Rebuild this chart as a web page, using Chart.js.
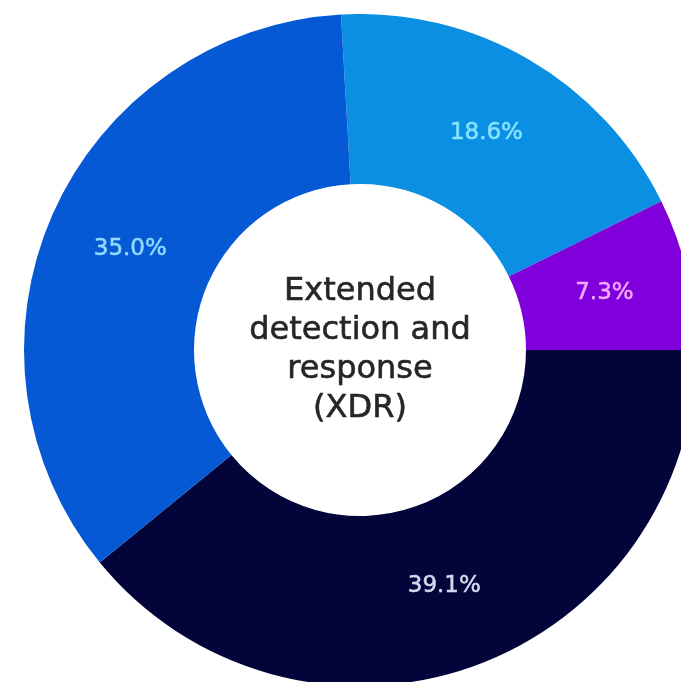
<!DOCTYPE html>
<html>
<head>
<meta charset="utf-8">
<script src="https://cdn.jsdelivr.net/npm/chart.js@4/dist/chart.umd.min.js"></script>
<style>
  html, body { margin: 0; padding: 0; background: #ffffff; overflow: hidden; width: 681px; height: 682px; }
  #wrap { position: absolute; left: 24px; top: 14px; width: 672px; height: 672px; }
</style>
</head>
<body>
<div id="wrap"><canvas id="xdr" width="672" height="672"></canvas></div>
<script>
// Survey shares for extended detection and response (XDR)
const categories = ['Segment A', 'Segment B', 'Segment C', 'Segment D'];
const shares = [18.6, 7.3, 39.1, 35.0];
const valueLabels = ['18.6%', '7.3%', '39.1%', '35.0%'];
const sliceColors = ['#0b8fe2', '#8000dc', '#02043a', '#0659d4'];
const labelColors = ['#86e4ff', '#f2a8ff', '#d4d8ee', '#8fdcff'];
const centerLines = ['Extended', 'detection and', 'response', '(XDR)'];

// Writes each percentage at the middle of its arc
const arcLabels = {
  id: 'arcLabels',
  afterDatasetsDraw(chart) {
    const { ctx } = chart;
    const meta = chart.getDatasetMeta(0);
    ctx.save();
    ctx.font = '23px "DejaVu Sans", sans-serif';
    ctx.textAlign = 'center';
    ctx.textBaseline = 'middle';
    ctx.lineWidth = 0.5;
    meta.data.forEach((arc, i) => {
      const p = arc.tooltipPosition();
      ctx.fillStyle = labelColors[i];
      ctx.strokeStyle = labelColors[i];
      ctx.fillText(valueLabels[i], p.x, p.y);
      ctx.strokeText(valueLabels[i], p.x, p.y);
    });
    ctx.restore();
  }
};

// Title in the hole of the ring
const centerText = {
  id: 'centerText',
  afterDatasetsDraw(chart) {
    const { ctx } = chart;
    const arc = chart.getDatasetMeta(0).data[0];
    const cx = arc.x, cy = arc.y;
    const lh = 39;
    ctx.save();
    ctx.font = '32px "DejaVu Sans", sans-serif';
    ctx.fillStyle = '#262626';
    ctx.strokeStyle = '#262626';
    ctx.lineWidth = 0.6;
    ctx.textAlign = 'center';
    ctx.textBaseline = 'middle';
    const top = cy - (centerLines.length - 1) * lh / 2;
    centerLines.forEach((t, i) => {
      ctx.fillText(t, cx, top + i * lh);
      ctx.strokeText(t, cx, top + i * lh);
    });
    ctx.restore();
  }
};

new Chart(document.getElementById('xdr'), {
  type: 'doughnut',
  data: {
    labels: categories,
    datasets: [{
      data: shares,
      backgroundColor: sliceColors,
      borderWidth: 0,
      hoverOffset: 0
    }]
  },
  options: {
    responsive: false,
    animation: false,
    rotation: -3.24,
    radius: 336,
    cutout: 166,
    layout: { padding: 0 },
    plugins: {
      legend: { display: false },
      tooltip: { enabled: false }
    }
  },
  plugins: [arcLabels, centerText]
});
</script>
</body>
</html>
